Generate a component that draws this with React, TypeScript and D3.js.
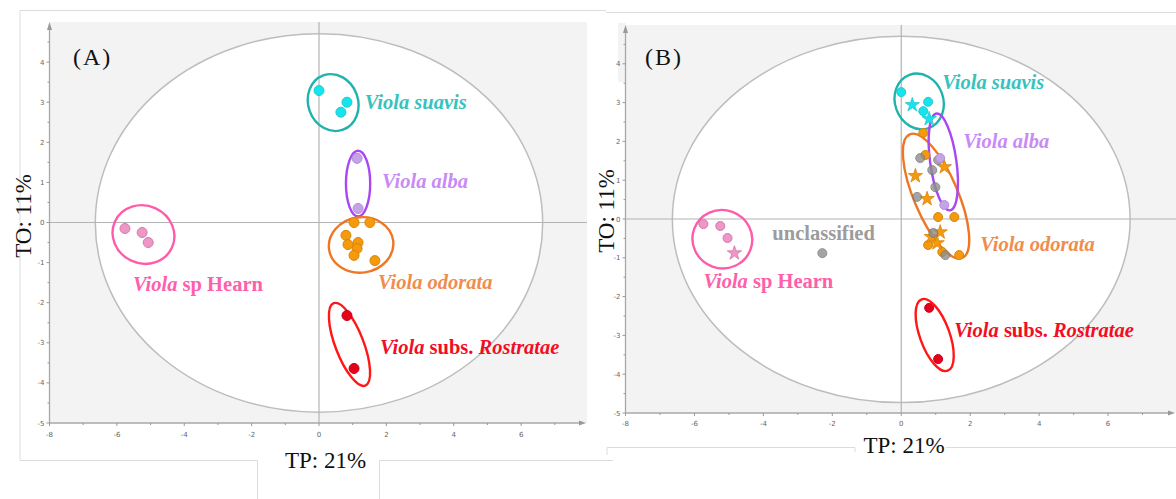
import * as d3 from 'd3';

type Pt = [number, number];
// cx, cy, rx, ry in score units, then the on-screen tilt in degrees
type Ell = [number, number, number, number, number];

// axes (both panels share them)
const xDomain: [number, number] = [-8, 8];
const yDomain: [number, number] = [-5, 5];
const xTickLabels = [-8, -6, -4, -2, 0, 2, 4, 6];
const yTickLabels = [-5, -4, -3, -2, -1, 0, 1, 2, 3, 4];
const hotellingT2: Ell = [0, -0.01, 6.64, 4.72, 0];

// (A) scores
const suavisA: Pt[] = [[0, 3.29], [0.83, 3.0], [0.65, 2.75]];
const albaA: Pt[] = [[1.13, 1.6], [1.16, 0.35]];
const odorataA: Pt[] = [[1.04, 0], [1.51, 0], [0.8, -0.32], [0.86, -0.55], [1.16, -0.5], [1.13, -0.65], [1.04, -0.82], [1.66, -0.95]];
const hearnA: Pt[] = [[-5.76, -0.15], [-5.25, -0.25], [-5.07, -0.5]];
const rostrataeA: Pt[] = [[0.83, -2.32], [1.04, -3.64]];

// (A) group ellipses
const suavisRingA: Ell = [0.42, 2.99, 0.74, 0.72, -20];
const albaRingA: Ell = [1.16, 0.97, 0.36, 0.82, 0];
const odorataRingA: Ell = [1.25, -0.56, 0.96, 0.69, -8];
const hearnRingA: Ell = [-5.21, -0.3, 0.93, 0.72, 25];
const rostrataeRingA: Ell = [0.905, -3.04, 0.42, 1.1, -21];

// (B) scores, circles = training samples, stars = predicted samples
const suavisB: Pt[] = [[0, 3.27], [0.78, 3.02], [0.64, 2.78]];
const suavisStarsB: Pt[] = [[0.32, 2.94], [0.81, 2.58]];
const albaB: Pt[] = [[1.13, 1.57], [1.25, 0.36]];
const odorataB: Pt[] = [[0.64, 2.22], [0.7, 1.65], [1.07, 0.05], [1.54, 0.05], [0.78, -0.67], [1.19, -0.85], [1.68, -0.93]];
const odorataStarsB: Pt[] = [[0.41, 1.11], [1.25, 1.34], [0.75, 0.52], [0.87, -0.46], [1.13, -0.34], [1.04, -0.62]];
const unclassifiedB: Pt[] = [[0.55, 1.57], [0.9, 1.26], [0.99, 0.82], [0.46, 0.57], [0.93, -0.36], [1.28, -0.93], [1.07, 1.52], [-2.29, -0.88]];
const hearnB: Pt[] = [[-5.74, -0.13], [-5.25, -0.18], [-5.04, -0.49]];
const hearnStarsB: Pt[] = [[-4.84, -0.88]];
const rostrataeB: Pt[] = [[0.81, -2.29], [1.07, -3.61]];

// (B) group ellipses
const suavisRingB: Ell = [0.52, 3.03, 0.7, 0.73, -20];
const albaRingB: Ell = [1.22, 1.47, 0.38, 1.26, -8];
const odorataRingB: Ell = [1.01, 0.59, 0.64, 1.73, -23];
const hearnRingB: Ell = [-5.19, -0.52, 0.87, 0.75, 20];
const rostrataeRingB: Ell = [0.97, -2.99, 0.43, 0.98, -20];

// label text pieces: [text, italic]
const labelText: Record<string, [string, boolean][]> = {
  suavis: [['Viola suavis', true]],
  alba: [['Viola alba', true]],
  odorata: [['Viola odorata', true]],
  hearn: [['Viola', true], [' sp Hearn', false]],
  rostratae: [['Viola', true], [' subs. ', false], ['Rostratae', true]],
  unclassified: [['unclassified', false]],
};

const colors: Record<string, { ring?: string; fill: string; edge: string; text: string }> = {
  suavis: { ring: '#1fb3ab', fill: '#14e4ee', edge: '#2cc6cc', text: '#36c3bd' },
  alba: { ring: '#a947f2', fill: '#c6a3e6', edge: '#b18fd6', text: '#c98af7' },
  odorata: { ring: '#ef7623', fill: '#f59a0c', edge: '#d8850b', text: '#ef8d4e' },
  hearn: { ring: '#ff5ca8', fill: '#ee96c6', edge: '#d679ab', text: '#ff5eab' },
  rostratae: { ring: '#ff1717', fill: '#e6001c', edge: '#c4001a', text: '#f20d25' },
  unclassified: { fill: '#8e8e8e', edge: '#777', text: '#9c9c9c' },
};

type Group = { key: string; ring?: Ell; circles: Pt[]; stars?: Pt[] };

const groupsA: Group[] = [
  { key: 'suavis', ring: suavisRingA, circles: suavisA },
  { key: 'alba', ring: albaRingA, circles: albaA },
  { key: 'odorata', ring: odorataRingA, circles: odorataA },
  { key: 'hearn', ring: hearnRingA, circles: hearnA },
  { key: 'rostratae', ring: rostrataeRingA, circles: rostrataeA },
];

const groupsB: Group[] = [
  { key: 'suavis', ring: suavisRingB, circles: suavisB, stars: suavisStarsB },
  { key: 'odorata', ring: odorataRingB, circles: odorataB, stars: odorataStarsB },
  { key: 'unclassified', circles: unclassifiedB },
  { key: 'alba', ring: albaRingB, circles: albaB },
  { key: 'hearn', ring: hearnRingB, circles: hearnB, stars: hearnStarsB },
  { key: 'rostratae', ring: rostrataeRingB, circles: rostrataeB },
];

// label anchors in score units (layout only)
const labelsA: [string, number, number][] = [
  ['suavis', 1.36, 2.84], ['alba', 1.87, 0.85], ['odorata', 1.75, -1.65],
  ['hearn', -5.52, -1.7], ['rostratae', 1.81, -3.27],
];
const labelsB: [string, number, number][] = [
  ['suavis', 1.19, 3.35], ['alba', 1.8, 1.83], ['odorata', 2.29, -0.82],
  ['hearn', -5.74, -1.78], ['rostratae', 1.54, -3.04], ['unclassified', -3.74, -0.54],
];

const panels = [
  {
    tag: '(A)', tagX: 73, tagY: 65, groups: groupsA, labels: labelsA,
    xRange: [49.5, 588.5], yRange: [423, 22], bgRight: 587, dot: 5,
    yLab: [31, 216], xLab: [325.5, 468], tickGap: 12,
  },
  {
    tag: '(B)', tagX: 645, tagY: 65, groups: groupsB, labels: labelsB,
    xRange: [625.5, 1177], yRange: [413, 25], bgRight: 1176, dot: 4.5,
    yLab: [614, 211], xLab: [904, 453], tickGap: 11,
  },
];

const serif = '"Liberation Serif", "Times New Roman", serif';

function Ring({ e, x, y, ...rest }: any) {
  const [cx, cy, rx, ry, tilt] = e as Ell;
  const px = x(cx);
  const py = y(cy);
  const prx = Math.abs(x(cx + rx) - px);
  const pry = Math.abs(y(cy + ry) - py);
  return <ellipse cx={px} cy={py} rx={prx} ry={pry} transform={`rotate(${tilt} ${px} ${py})`} {...rest} />;
}

function Panel({ p }: { p: (typeof panels)[number] }) {
  const x = d3.scaleLinear().domain(xDomain).range(p.xRange);
  const y = d3.scaleLinear().domain(yDomain).range(p.yRange);
  const [x0, x1] = p.xRange;
  const [yb, yt] = p.yRange;
  const star = d3.symbol(d3.symbolStar, 64)() as string;
  const minorX = d3.range(-8, 8, 1);
  const minorY = d3.range(-5, 5, 0.5);

  return (
    <g>
      <rect x={x0} y={yt} width={p.bgRight - x0} height={yb - yt} fill="#f3f3f3" />
      <Ring e={hotellingT2} x={x} y={y} fill="#fff" stroke="#bdbdbd" strokeWidth={1.5} />
      <line x1={x0} x2={p.bgRight} y1={y(0)} y2={y(0)} stroke="#b4b4b4" strokeWidth={1.2} />
      <line x1={x(0)} x2={x(0)} y1={yt} y2={yb} stroke="#b4b4b4" strokeWidth={1.2} />

      {/* axes */}
      <line x1={x0} x2={Math.min(x1, p.bgRight) - 4} y1={yb} y2={yb} stroke="#a8a8a8" strokeWidth={1.3} />
      <path d={`M${Math.min(x1, p.bgRight) - 8},${yb - 2.5}L${Math.min(x1, p.bgRight) - 1},${yb}L${Math.min(x1, p.bgRight) - 8},${yb + 2.5}Z`} fill="#999" />
      <line x1={x0} x2={x0} y1={yb} y2={yt + 4} stroke="#a8a8a8" strokeWidth={1.3} />
      <path d={`M${x0 - 2.5},${yt + 8}L${x0},${yt}L${x0 + 2.5},${yt + 8}Z`} fill="#999" />
      {minorX.map((v) => (
        <line key={'mx' + v} x1={x(v)} x2={x(v)} y1={yb} y2={yb + (v % 2 === 0 ? 3 : 2)} stroke="#999" />
      ))}
      {minorY.map((v) => (
        <line key={'my' + v} x1={x0} x2={x0 - (Number.isInteger(v) ? 3 : 2)} y1={y(v)} y2={y(v)} stroke="#999" />
      ))}
      {xTickLabels.map((v) => (
        <text key={'xt' + v} x={x(v)} y={yb + p.tickGap + 2} textAnchor="middle" fontSize={7} fill="#666" fontFamily="DejaVu Sans">{v}</text>
      ))}
      {yTickLabels.map((v) => (
        <text key={'yt' + v} x={x0 - 5} y={y(v) + 2.5} textAnchor="end" fontSize={7} fill="#666" fontFamily="DejaVu Sans">{v}</text>
      ))}

      {/* group ellipses */}
      {p.groups.filter((g) => g.ring).map((g) => (
        <Ring key={'r' + g.key} e={g.ring} x={x} y={y} fill="none" stroke={colors[g.key].ring} strokeWidth={2.4} />
      ))}

      {/* samples */}
      {p.groups.map((g) => (
        <g key={'p' + g.key} opacity={g.key === 'unclassified' ? 0.8 : 1}>
          {g.circles.map((d, i) => (
            <circle key={i} cx={x(d[0])} cy={y(d[1])} r={p.dot} fill={colors[g.key].fill} stroke={colors[g.key].edge} strokeWidth={1} />
          ))}
          {(g.stars || []).map((d, i) => (
            <path key={'s' + i} d={star} transform={`translate(${x(d[0])},${y(d[1])})`} fill={colors[g.key].fill} stroke={colors[g.key].edge} strokeWidth={0.8} />
          ))}
        </g>
      ))}

      {/* group names */}
      {p.labels.map(([k, lx, ly]) => (
        <text key={'l' + k} x={x(lx)} y={y(ly)} fontFamily={serif} fontWeight="bold" fontSize={20.5} fill={colors[k].text}>
          {labelText[k].map(([t, it], i) => (
            <tspan key={i} fontStyle={it ? 'italic' : 'normal'} xmlSpace="preserve">{t}</tspan>
          ))}
        </text>
      ))}

      <text x={p.tagX} y={p.tagY} fontFamily={serif} fontSize={24} letterSpacing={2} fill="#111">{p.tag}</text>
      <text transform={`translate(${p.yLab[0]},${p.yLab[1]}) rotate(-90)`} textAnchor="middle" fontFamily={serif} fontSize={23} fill="#111">TO: 11%</text>
      <text x={p.xLab[0]} y={p.xLab[1]} textAnchor="middle" fontFamily={serif} fontSize={23} fill="#111">TP: 21%</text>
    </g>
  );
}

export default function App() {
  return (
    <svg width={1176} height={499} style={{ position: 'absolute', left: 0, top: 0, background: '#fff' }}>
      {/* frames around the two pasted figures */}
      <g stroke="#dcdcdc" strokeWidth={1} fill="none">
        <path d="M20,460.5V10.5H606" />
        <path d="M20,460.5H257.5V499M379.5,499V460.5H613" />
        <path d="M606,12.5H1176" />
        <path d="M607,455V447.5H855V452M946,447.5H1176" />
      </g>
      <rect x={618} y={23} width={8} height={59} fill="#f3f3f3" />
      {panels.map((p) => <Panel key={p.tag} p={p} />)}
    </svg>
  );
}
